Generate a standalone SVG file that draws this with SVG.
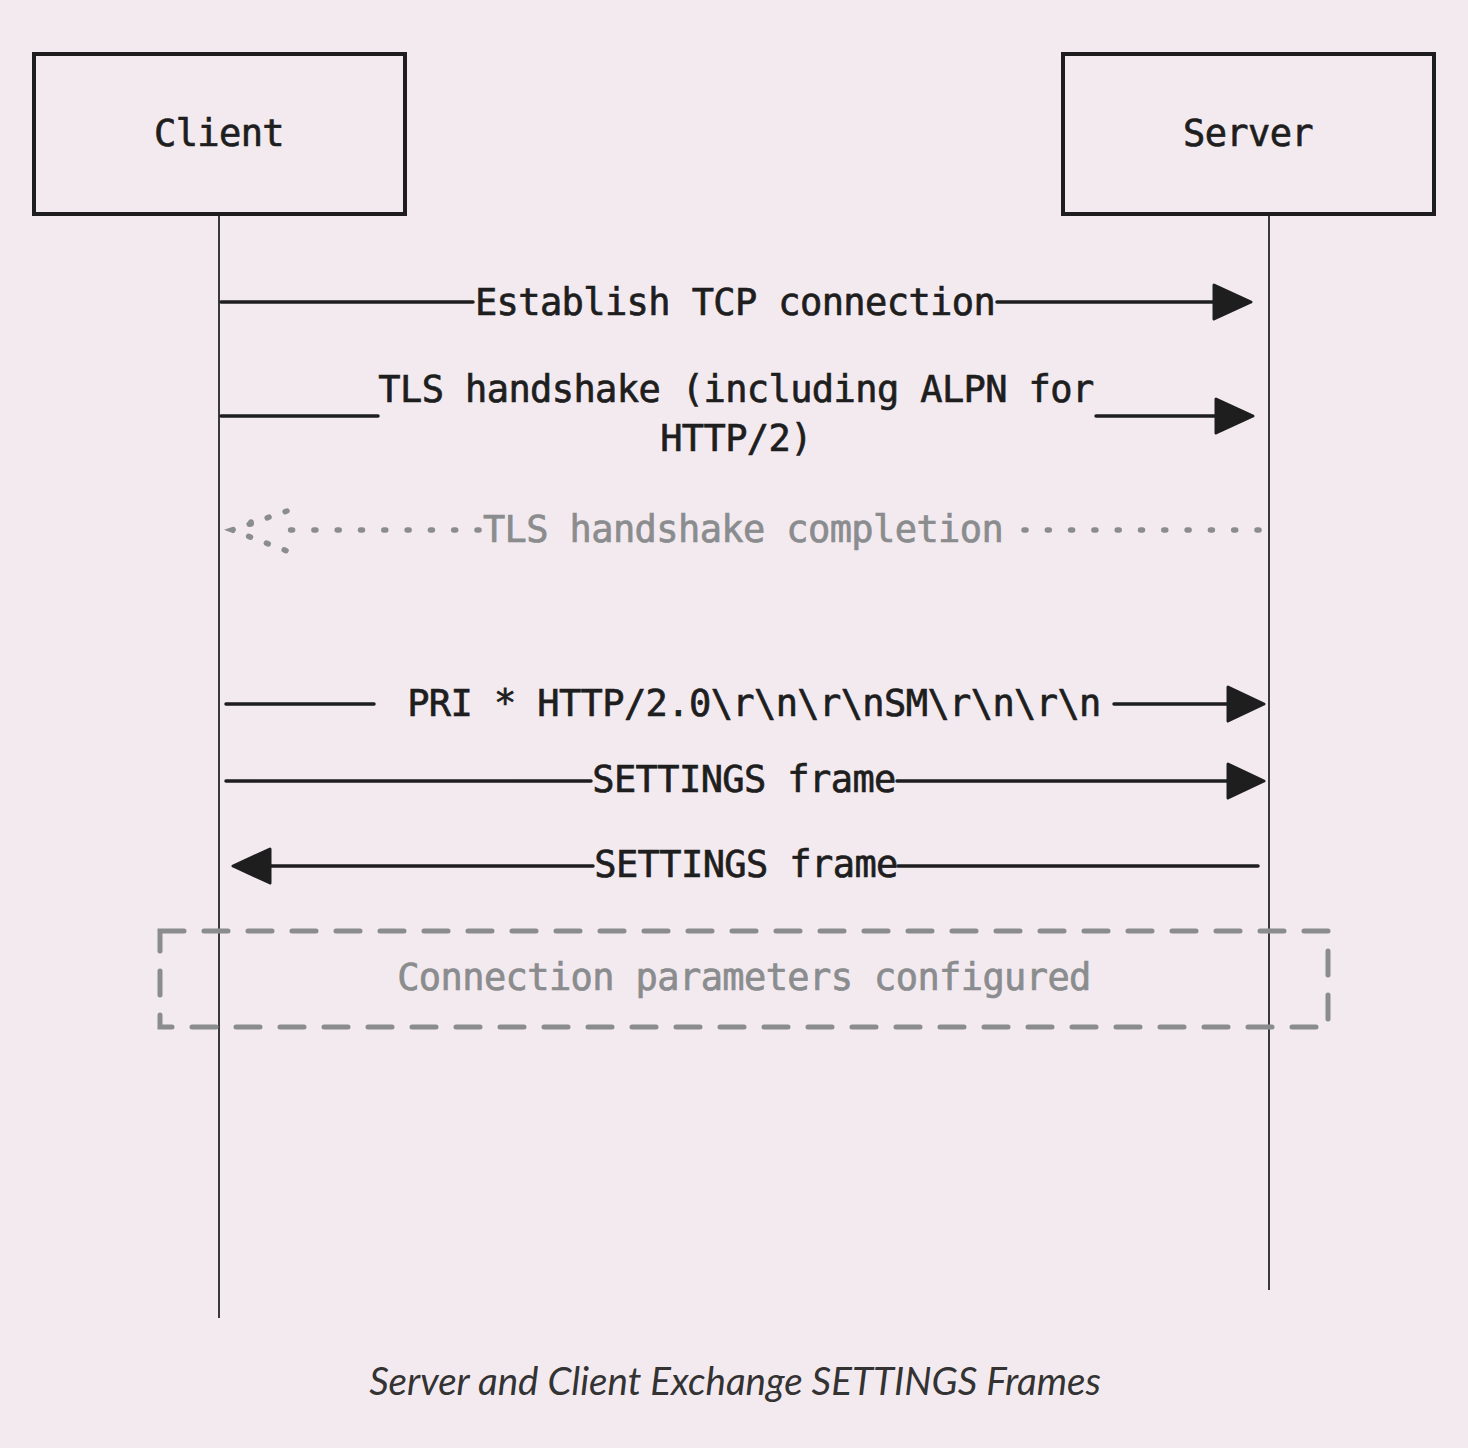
<svg xmlns="http://www.w3.org/2000/svg" width="1468" height="1448" viewBox="0 0 1468 1448">
<defs>
<style>
.box{fill:none;stroke:#1e1e1e;stroke-width:4}
.life{stroke:#3a3a3a;stroke-width:2;fill:none}
.msg{stroke:#1e1e1e;stroke-width:3.5;fill:none;stroke-linecap:round}
.head{fill:#1e1e1e;stroke:#1e1e1e;stroke-width:3;stroke-linejoin:round}
.dot{stroke:#8a8c8e;stroke-width:5.5;fill:none;stroke-linecap:round;stroke-dasharray:2 21.3}
.t{font-family:"DejaVu Sans Mono",monospace;font-size:37px;letter-spacing:-0.6px;fill:#1e1e1e;stroke:#1e1e1e;stroke-width:0.7;text-anchor:middle}
.g{fill:#8a8c8e;stroke:#8a8c8e}
.note{fill:none;stroke:#8a8c8e;stroke-width:5;stroke-dasharray:24 20;stroke-linecap:round}
.cap{font-family:Lato,"Liberation Sans",sans-serif;font-style:italic;font-size:38.5px;fill:#333;text-anchor:middle}
</style>
</defs>
<rect width="1468" height="1448" fill="#f3eaf0"/>
<g id="client">
<rect class="box" x="34" y="54" width="371" height="160"/>
<text class="t" x="219" y="146">Client</text>
</g>
<g id="server">
<rect class="box" x="1063" y="54" width="371" height="160"/>
<text class="t" x="1248" y="146">Server</text>
</g>
<g id="lifelines">
<line class="life" x1="219" y1="216" x2="219" y2="1318"/>
<line class="life" x1="1269" y1="216" x2="1269" y2="1290"/>
</g>
<g id="connectors">
<line class="msg" x1="221" y1="302" x2="473" y2="302"/>
<line class="msg" x1="997" y1="302" x2="1216" y2="302"/>
<path class="head" d="M1214,285 L1251,302 L1214,319 Z"/>
<text class="t" x="735" y="315">Establish TCP connection</text>

<line class="msg" x1="221" y1="416" x2="378" y2="416"/>
<line class="msg" x1="1096" y1="416" x2="1218" y2="416"/>
<path class="head" d="M1216,399 L1253,416 L1216,433 Z"/>
<text class="t" x="736" y="402">TLS handshake (including ALPN for</text>
<text class="t" x="736" y="451">HTTP/2)</text>

<line class="dot" x1="1259" y1="530" x2="1016" y2="530"/>
<line class="dot" x1="479" y1="530" x2="270" y2="530"/>
<path class="dot" d="M287,511 L232,530 L287,551" style="stroke-dasharray:2 17"/>
<path class="dot" d="M251,522 L251,540" style="stroke-dasharray:2 16"/>
<text class="t g" x="743" y="542">TLS handshake completion</text>

<line class="msg" x1="226" y1="704" x2="374" y2="704"/>
<line class="msg" x1="1114" y1="704" x2="1229" y2="704"/>
<path class="head" d="M1228,687 L1264,704 L1228,721 Z"/>
<text class="t" x="754" y="716">PRI * HTTP/2.0\r\n\r\nSM\r\n\r\n</text>

<line class="msg" x1="226" y1="781" x2="591" y2="781"/>
<line class="msg" x1="897" y1="781" x2="1229" y2="781"/>
<path class="head" d="M1228,764 L1264,781 L1228,798 Z"/>
<text class="t" x="744" y="792">SETTINGS frame</text>

<line class="msg" x1="1258" y1="866" x2="898" y2="866"/>
<line class="msg" x1="593" y1="866" x2="268" y2="866"/>
<path class="head" d="M270,849 L233,866 L270,883 Z"/>
<text class="t" x="746" y="877">SETTINGS frame</text>
</g>
<g id="note">
<rect class="note" x="160" y="931" width="1168" height="96"/>
<text class="t g" x="744" y="990">Connection parameters configured</text>
</g>
<text class="cap" x="735" y="1395">Server and Client Exchange SETTINGS Frames</text>
</svg>
